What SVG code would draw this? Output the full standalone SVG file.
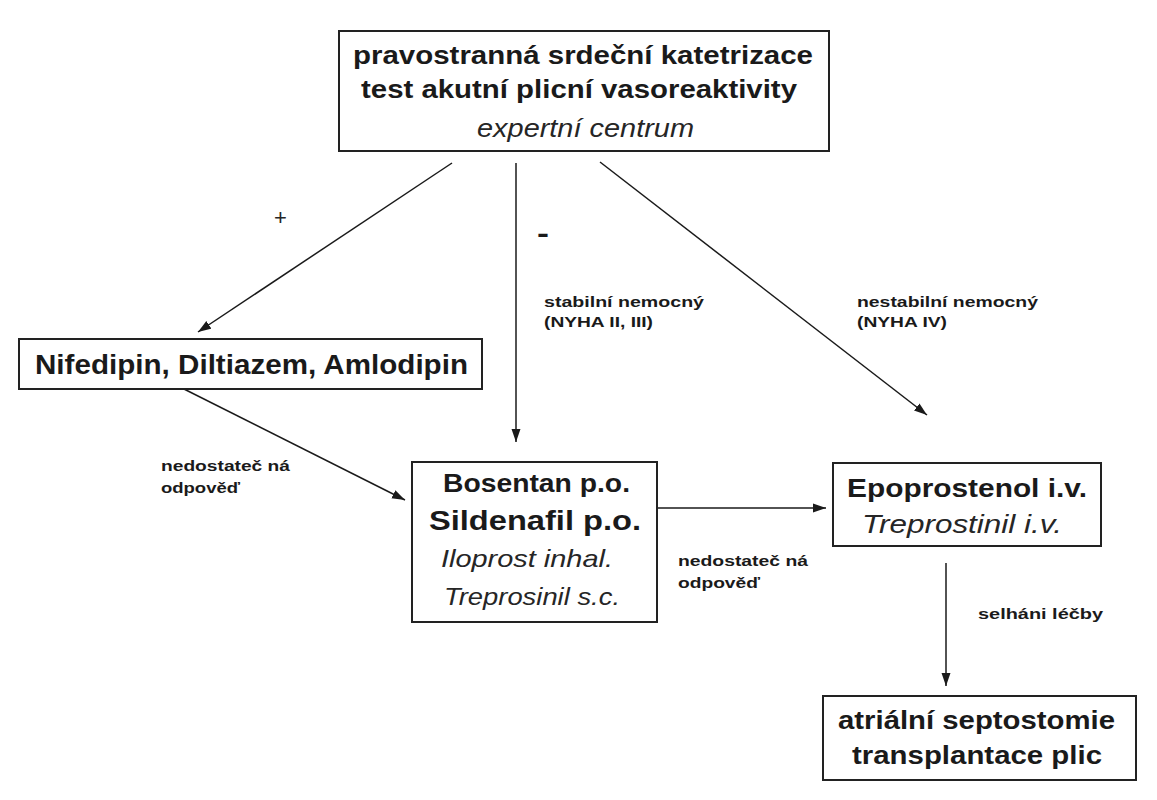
<svg xmlns="http://www.w3.org/2000/svg" width="1157" height="800" viewBox="0 0 1157 800">
<defs>
<marker id="arr" markerUnits="userSpaceOnUse" markerWidth="14" markerHeight="10" refX="13" refY="5" orient="auto">
<path d="M0,0.5 L13,5 L0,9.5 Z" fill="#1a1a1a"/>
</marker>
<style>
.box{fill:#fff;stroke:#222;stroke-width:2}
.b{font-family:"Liberation Sans",Arial,sans-serif;font-weight:bold;fill:#1a1a1a}
.i{font-family:"Liberation Sans",Arial,sans-serif;font-style:italic;fill:#262626}
.lbl{font-family:"Liberation Sans",Arial,sans-serif;font-weight:bold;font-size:15px;fill:#1a1a1a}
.edge{stroke:#1a1a1a;stroke-width:1.5;fill:none;marker-end:url(#arr)}
</style>
</defs>
<rect width="1157" height="800" fill="#fff"/>
<g id="connectors">
<line class="edge" x1="452" y1="163" x2="198" y2="332"/>
<line class="edge" x1="516" y1="163" x2="516" y2="442"/>
<line class="edge" x1="600" y1="162" x2="927" y2="415"/>
<line class="edge" x1="180" y1="387" x2="405" y2="500"/>
<line class="edge" x1="657" y1="508" x2="826" y2="508"/>
<line class="edge" x1="946" y1="563" x2="946" y2="686"/>
</g>
<g id="edge-labels">
<text class="i" style="font-style:normal" font-size="22" x="274" y="225">+</text>
<text class="b" font-size="28" x="537" y="243" textLength="12" lengthAdjust="spacingAndGlyphs">-</text>
<text class="lbl" x="544" y="307" textLength="160" lengthAdjust="spacingAndGlyphs">stabilní nemocný</text>
<text class="lbl" x="544" y="327" textLength="109" lengthAdjust="spacingAndGlyphs">(NYHA II, III)</text>
<text class="lbl" x="857" y="307" textLength="181" lengthAdjust="spacingAndGlyphs">nestabilní nemocný</text>
<text class="lbl" x="857" y="327" textLength="90" lengthAdjust="spacingAndGlyphs">(NYHA IV)</text>
<text class="lbl" x="161" y="471" textLength="129" lengthAdjust="spacingAndGlyphs">nedostateč ná</text>
<text class="lbl" x="161" y="493" textLength="79" lengthAdjust="spacingAndGlyphs">odpověď</text>
<text class="lbl" x="678" y="566" textLength="130" lengthAdjust="spacingAndGlyphs">nedostateč ná</text>
<text class="lbl" x="678" y="588" textLength="82" lengthAdjust="spacingAndGlyphs">odpověď</text>
<text class="lbl" x="978" y="619" textLength="125" lengthAdjust="spacingAndGlyphs">selháni léčby</text>
</g>
<g id="node-katetrizace">
<rect class="box" x="339" y="31" width="490" height="120"/>
<text class="b" font-size="26" x="353" y="64" textLength="460" lengthAdjust="spacingAndGlyphs">pravostranná srdeční katetrizace</text>
<text class="b" font-size="26" x="361" y="98" textLength="436" lengthAdjust="spacingAndGlyphs">test akutní plicní vasoreaktivity</text>
<text class="i" font-size="25" x="477" y="137" textLength="217" lengthAdjust="spacingAndGlyphs">expertní centrum</text>
</g>
<g id="node-blokatory">
<rect class="box" x="19" y="339" width="463" height="50"/>
<text class="b" font-size="27" x="35" y="374" textLength="433" lengthAdjust="spacingAndGlyphs">Nifedipin, Diltiazem, Amlodipin</text>
</g>
<g id="node-bosentan">
<rect class="box" x="412" y="462" width="245" height="160"/>
<text class="b" font-size="26" x="443" y="492" textLength="187" lengthAdjust="spacingAndGlyphs">Bosentan p.o.</text>
<text class="b" font-size="27" x="429" y="530" textLength="212" lengthAdjust="spacingAndGlyphs">Sildenafil p.o.</text>
<text class="i" font-size="24" x="441" y="567" textLength="172" lengthAdjust="spacingAndGlyphs">Iloprost inhal.</text>
<text class="i" font-size="24" x="444" y="605" textLength="176" lengthAdjust="spacingAndGlyphs">Treprosinil s.c.</text>
</g>
<g id="node-epoprostenol">
<rect class="box" x="833" y="463" width="268" height="83"/>
<text class="b" font-size="26" x="847" y="497" textLength="240" lengthAdjust="spacingAndGlyphs">Epoprostenol i.v.</text>
<text class="i" font-size="25" x="862" y="533" textLength="200" lengthAdjust="spacingAndGlyphs">Treprostinil i.v.</text>
</g>
<g id="node-septostomie">
<rect class="box" x="823" y="696" width="313" height="84"/>
<text class="b" font-size="26" x="838" y="729" textLength="277" lengthAdjust="spacingAndGlyphs">atriální septostomie</text>
<text class="b" font-size="26" x="852" y="764" textLength="250" lengthAdjust="spacingAndGlyphs">transplantace plic</text>
</g>
</svg>
